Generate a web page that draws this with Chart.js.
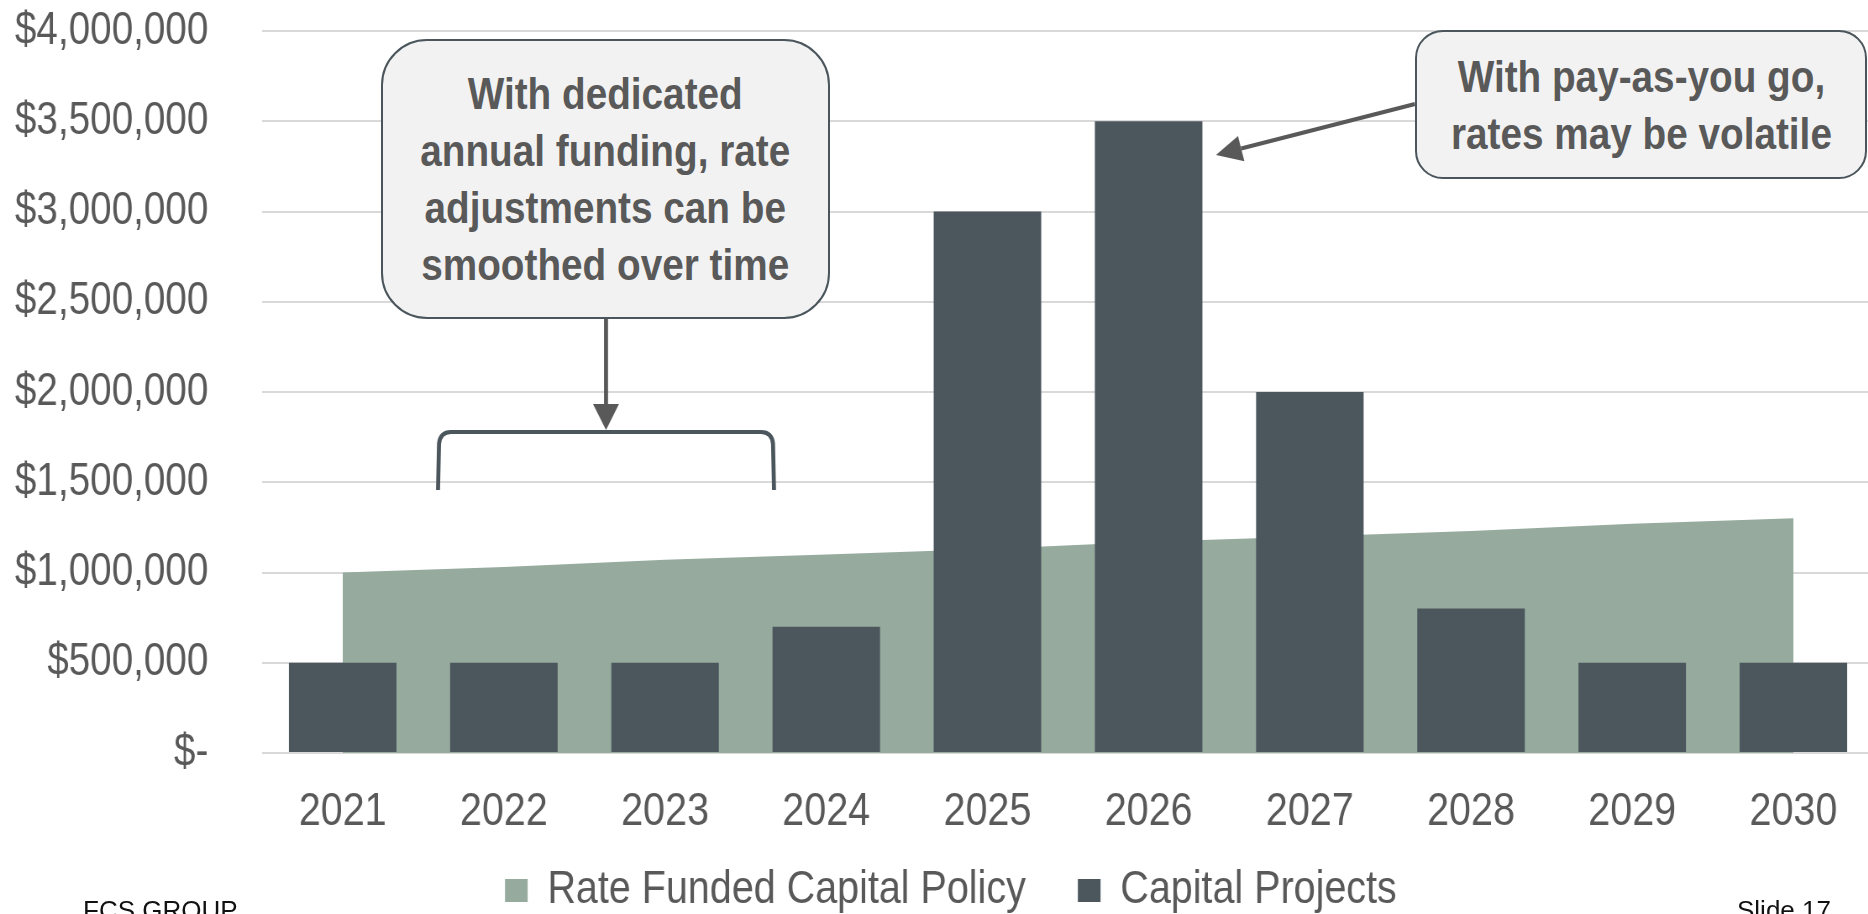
<!DOCTYPE html>
<html>
<head>
<meta charset="utf-8">
<title>Capital Funding Approaches</title>
<script src="https://cdn.jsdelivr.net/npm/chart.js@4.4.1/dist/chart.umd.min.js"></script>
<style>
  html, body { margin: 0; padding: 0; background: #fff; overflow: hidden; width: 1868px; height: 914px; }
  #wrap { position: absolute; left: 0; top: 0; width: 1874px; height: 924px; }
  /* the drawing surface is rendered wider than shown, giving narrow lettering */
  #chart { position: absolute; left: 0; top: 0; width: 1874px; height: 924px; }
  .callout {
    position: absolute; box-sizing: border-box;
    background: #F2F2F2; border: 2px solid #4B565C;
    display: flex; align-items: center; justify-content: center; text-align: center;
    font-family: 'Liberation Sans', Arial, sans-serif;
    font-weight: bold; font-size: 44px; line-height: 57px; color: #595959;
  }
  .callout span { display: inline-block; white-space: nowrap; transform: scaleX(0.88); }
  .foot {
    position: absolute; font-family: 'Liberation Sans', Arial, sans-serif;
    font-size: 26px; line-height: 1; color: #111; white-space: nowrap;
  }
</style>
</head>
<body>
<div id="wrap">
  <canvas id="chart" width="2231" height="924" style="width:1874px;height:924px;"></canvas>
  <div class="callout" style="left:381px; top:39px; width:449px; height:280px; border-radius:46px;"><span>With dedicated<br>annual funding, rate<br>adjustments can be<br>smoothed over time</span></div>
  <div class="callout" style="left:1415px; top:30px; width:452px; height:149px; border-radius:28px;"><span>With pay-as-you go,<br>rates may be volatile</span></div>
  <div class="foot" style="left:83px; top:897px;">FCS GROUP</div>
  <div class="foot" style="left:1737px; top:897px;">Slide 17</div>
</div>
<script>
// Planning years on the horizontal axis
const years = ['2021', '2022', '2023', '2024', '2025', '2026', '2027', '2028', '2029', '2030'];

// Annual rate-funded capital contribution (steady growth)
const rateFundedPolicy = [1000000, 1030000, 1070000, 1100000, 1130000, 1170000, 1200000, 1230000, 1270000, 1300000];

// Capital project spending by year
const capitalProjects = [500000, 500000, 500000, 700000, 3000000, 3500000, 2000000, 800000, 500000, 500000];

// Dollar labels for the value axis, bottom to top
const yTickLabels = ['$-', '$500,000', '$1,000,000', '$1,500,000', '$2,000,000', '$2,500,000', '$3,000,000', '$3,500,000', '$4,000,000'];

const FONT = "'Liberation Sans', Arial, sans-serif";
const TEXT = '#595959';
// horizontal squeeze between canvas units and screen pixels
const SQUEEZE = 1874 / 2231;

function drawArrow(ctx, x0, y0, x1, y1) {
  const ang = Math.atan2(y1 - y0, x1 - x0);
  const len = 26, half = 13;
  const bx = x1 - len * Math.cos(ang), by = y1 - len * Math.sin(ang);
  ctx.strokeStyle = '#595959';
  ctx.fillStyle = '#595959';
  ctx.lineWidth = 4;
  ctx.beginPath();
  ctx.moveTo(x0, y0);
  ctx.lineTo(bx, by);
  ctx.stroke();
  ctx.beginPath();
  ctx.moveTo(x1, y1);
  ctx.lineTo(bx - half * Math.sin(ang), by + half * Math.cos(ang));
  ctx.lineTo(bx + half * Math.sin(ang), by - half * Math.cos(ang));
  ctx.closePath();
  ctx.fill();
}

// Bracket over the early years and the two pointer arrows from the callouts,
// laid out in screen pixels
const calloutMarks = {
  id: 'calloutMarks',
  afterDraw(chart) {
    const ctx = chart.ctx;
    ctx.save();
    ctx.scale(1 / SQUEEZE, 1);
    ctx.strokeStyle = '#4B565C';
    ctx.lineWidth = 4;
    ctx.lineJoin = 'round';
    ctx.beginPath();
    ctx.moveTo(438, 490);
    ctx.lineTo(439, 444);
    ctx.quadraticCurveTo(440, 432, 451, 432);
    ctx.lineTo(761, 432);
    ctx.quadraticCurveTo(772, 432, 773, 444);
    ctx.lineTo(774, 490);
    ctx.stroke();

    drawArrow(ctx, 606, 319, 606, 430);
    drawArrow(ctx, 1415, 104, 1216, 155);
    ctx.restore();
  }
};

// let tick labels run past their axis box instead of being cut
function unclipLabels(scale) {
  scale._computeLabelArea = () => undefined;
}

function build() {
  new Chart(document.getElementById('chart'), {
    type: 'bar',
    data: {
      labels: years,
      datasets: [
        {
          type: 'line',
          label: 'Rate Funded Capital Policy',
          data: rateFundedPolicy,
          backgroundColor: '#96AB9E',
          borderColor: '#96AB9E',
          borderWidth: 0,
          fill: 'origin',
          pointRadius: 0,
          tension: 0,
          order: 2
        },
        {
          type: 'bar',
          label: 'Capital Projects',
          data: capitalProjects,
          backgroundColor: '#4B565D',
          borderWidth: 0,
          categoryPercentage: 1,
          barPercentage: 0.667,
          order: 1
        }
      ]
    },
    options: {
      responsive: false,
      animation: false,
      devicePixelRatio: 1,
      layout: { padding: { left: 33, right: 0, top: 31, bottom: 0 } },
      plugins: {
        legend: {
          position: 'bottom',
          labels: {
            boxWidth: 27,
            boxHeight: 23,
            padding: 62,
            color: TEXT,
            font: { family: FONT, size: 47 },
            sort: (a, b) => a.datasetIndex - b.datasetIndex
          }
        },
        tooltip: { enabled: false }
      },
      scales: {
        x: {
          grid: { display: false, drawTicks: false },
          border: { display: false },
          ticks: { color: TEXT, font: { family: FONT, size: 47 }, padding: 31, maxRotation: 0, autoSkip: false },
          afterFit(scale) { scale.height = 52; unclipLabels(scale); }
        },
        y: {
          min: 0,
          max: 4000000,
          grid: { color: '#D9D9D9', lineWidth: 2, drawTicks: true, tickLength: 62, tickColor: 'rgba(0,0,0,0)' },
          border: { display: false },
          ticks: {
            stepSize: 500000,
            padding: 2,
            color: TEXT,
            font: { family: FONT, size: 46 },
            callback: (value, index) => yTickLabels[index]
          },
          afterFit(scale) { scale.width = 279; unclipLabels(scale); }
        }
      }
    },
    plugins: [calloutMarks]
  });
}

if (document.fonts && document.fonts.ready) {
  document.fonts.ready.then(build);
} else {
  build();
}
</script>
</body>
</html>
